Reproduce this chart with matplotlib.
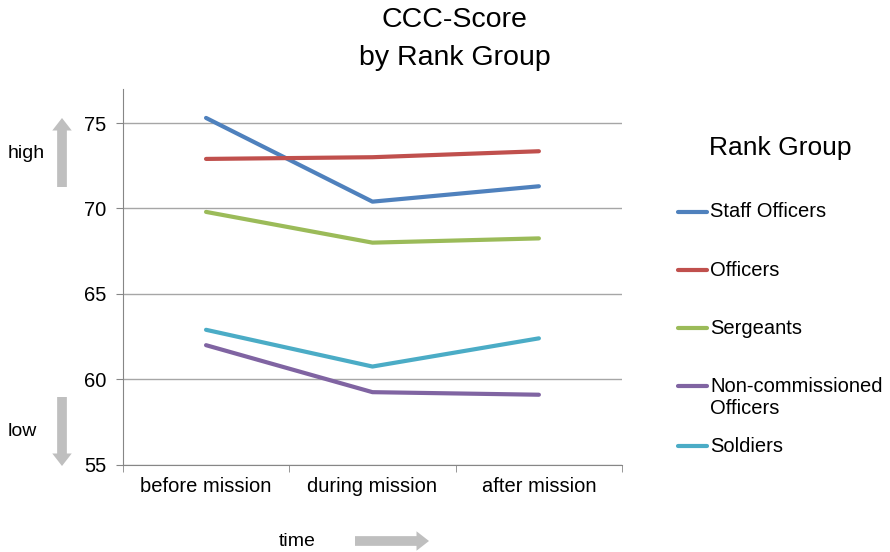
import matplotlib.pyplot as plt
from matplotlib.lines import Line2D

plt.rcParams['font.family'] = ['Liberation Sans', 'DejaVu Sans']

times = ['before mission', 'during mission', 'after mission']
groups = ['Staff Officers', 'Officers', 'Sergeants', 'Non-commissioned\nOfficers', 'Soldiers']
staff = [75.3, 70.4, 71.3]
officers = [72.9, 73.0, 73.35]
sergeants = [69.8, 68.0, 68.25]
nco = [62.0, 59.25, 59.1]
soldiers = [62.9, 60.75, 62.4]
colors = ['#4F81BD', '#C0504D', '#9BBB59', '#8064A2', '#4BACC6']

fig = plt.figure(figsize=(8.9, 5.52), dpi=100)
ax = fig.add_axes([0.138, 0.158, 0.561, 0.681])

x = range(len(times))
for vals, c in zip([staff, officers, sergeants, nco, soldiers], colors):
    ax.plot(x, vals, color=c, lw=3, solid_capstyle='round')

ax.set_xlim(-0.5, 2.5)
ax.set_ylim(55, 77)
ax.set_yticks([55, 60, 65, 70, 75])
ax.set_xticks(list(x))
ax.set_xticklabels(times, fontsize=14.5)
ax.set_xticks([-0.5, 0.5, 1.5, 2.5], minor=True)
ax.tick_params(axis='x', which='major', length=0, pad=9)
ax.tick_params(axis='x', which='minor', length=5, color='#868686')
ax.tick_params(axis='y', length=5, color='#868686', labelsize=14.5, pad=7)
ax.grid(axis='y', color='#A6A6A6', lw=1)
ax.set_axisbelow(True)
for s in ['top', 'right']:
    ax.spines[s].set_visible(False)
for s in ['left', 'bottom']:
    ax.spines[s].set_color('#868686')

fig.text(0.511, 1 - 20 / 552, 'CCC-Score', ha='center', va='center', fontsize=20.5)
fig.text(0.511, 1 - 58 / 552, 'by Rank Group', ha='center', va='center', fontsize=20.5)

# legend drawn by hand to keep Excel-like spacing
fig.text(780 / 890, 1 - 148 / 552, 'Rank Group', ha='center', va='center', fontsize=19)
leg_y = [212, 270, 328, 398, 446]
for g, c, yy in zip(groups, colors, leg_y):
    yf = 1 - yy / 552
    if '\n' in g:
        yl = 1 - 386 / 552
    else:
        yl = yf
    fig.add_artist(Line2D([678 / 890, 707 / 890], [yl, yl], color=c, lw=3,
                          solid_capstyle='round', transform=fig.transFigure))
    fig.text(710 / 890, yf, g, ha='left', va='center', fontsize=14.5, linespacing=1.2)

# gray arrows
arrow = dict(arrowstyle='simple,head_width=1.4,head_length=0.9,tail_width=0.7',
             color='#BFBFBF', lw=0, shrinkA=0, shrinkB=0)
H = 552
ax.annotate('', xy=(62, H - 118), xytext=(62, H - 187), xycoords='figure pixels',
            textcoords='figure pixels', arrowprops=arrow, annotation_clip=False)
ax.annotate('', xy=(62, H - 466), xytext=(62, H - 397), xycoords='figure pixels',
            textcoords='figure pixels', arrowprops=arrow, annotation_clip=False)
ax.annotate('', xy=(429, H - 541), xytext=(355, H - 541), xycoords='figure pixels',
            textcoords='figure pixels', arrowprops=arrow, annotation_clip=False)
fig.text(26 / 890, 1 - 153 / 552, 'high', ha='center', va='center', fontsize=14)
fig.text(22 / 890, 1 - 432 / 552, 'low', ha='center', va='center', fontsize=14)
fig.text(297 / 890, 1 - 541 / 552, 'time', ha='center', va='center', fontsize=14)

fig.savefig('out.png', dpi=100)
